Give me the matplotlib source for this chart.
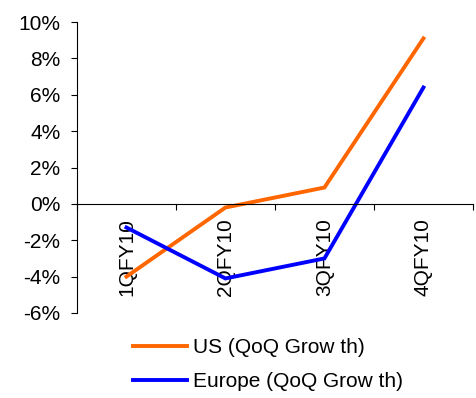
import matplotlib
matplotlib.use("Agg")
import matplotlib.pyplot as plt
from matplotlib.ticker import FixedLocator, PercentFormatter

categories = ["1QFY10", "2QFY10", "3QFY10", "4QFY10"]
us_growth = [-4.0, -0.2, 0.9, 9.1]
europe_growth = [-1.3, -4.1, -3.0, 6.4]
y_ticks = [-6, -4, -2, 0, 2, 4, 6, 8, 10]

plt.rcParams['font.family'] = ['Liberation Sans', 'DejaVu Sans']
plt.rcParams['axes.unicode_minus'] = False

fig = plt.figure(figsize=(4.77, 3.98), dpi=100)
ax = fig.add_axes([0.1614, 0.2136, 0.830, 0.731])

x = list(range(len(categories)))
l1, = ax.plot(x, us_growth, color='#FF6600', lw=2.8, solid_joinstyle='miter', label='US (QoQ Grow th)')
l2, = ax.plot(x, europe_growth, color='#0000FF', lw=2.8, solid_joinstyle='miter', label='Europe (QoQ Grow th)')

ax.set_xlim(-0.5, len(categories) - 0.5)
ax.set_ylim(-6, 10)
ax.set_yticks(y_ticks)
ax.yaxis.set_major_formatter(PercentFormatter(decimals=0))

ax.spines['top'].set_visible(False)
ax.spines['right'].set_visible(False)
ax.spines['bottom'].set_position(('data', 0))
for s in ['left', 'bottom']:
    ax.spines[s].set_linewidth(0.8)

ax.set_xticks(x)
ax.set_xticklabels(categories, rotation=90, va='top', ha='center')
ax.xaxis.set_minor_locator(FixedLocator([i - 0.5 for i in range(len(categories) + 1)]))
ax.tick_params(axis='x', which='major', length=0, pad=10, labelsize=15)
ax.tick_params(axis='x', which='minor', length=4.5, width=0.8, direction='out')
ax.tick_params(axis='y', length=4, width=0.8, pad=8, labelsize=15)

fig.legend(handles=[l1, l2], loc='upper left', bbox_to_anchor=(0.278, 0.150),
           frameon=False, fontsize=15, handlelength=2.6, handletextpad=0.3,
           labelspacing=0.7, borderpad=0, borderaxespad=0)

fig.savefig('out.png', dpi=100)
